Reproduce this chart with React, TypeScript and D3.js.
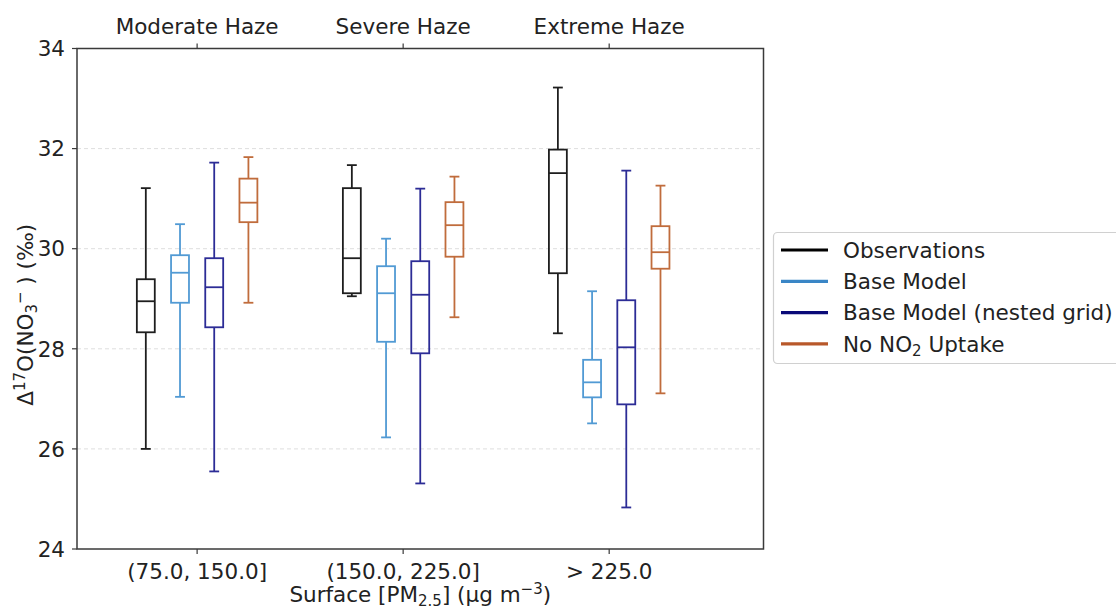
import React from "react";
import * as d3 from "d3";

// Haze categories (bottom: PM2.5 bins, top: haze level)
const pmBins = ["(75.0, 150.0]", "(150.0, 225.0]", "> 225.0"];
const hazeLevels = ["Moderate Haze", "Severe Haze", "Extreme Haze"];
const yTicks = [24, 26, 28, 30, 32, 34];

const seriesNames = ["Observations", "Base Model", "Base Model (nested grid)", "No NO2 Uptake"];

// Box statistics per series: [whisker low, Q1, median, Q3, whisker high] for each bin
const observations = [
  [26.0, 28.33, 28.95, 29.39, 31.21],
  [29.05, 29.11, 29.81, 31.21, 31.67],
  [28.31, 29.51, 31.51, 31.98, 33.22],
];
const baseModel = [
  [27.04, 28.92, 29.52, 29.87, 30.49],
  [26.23, 28.14, 29.11, 29.65, 30.2],
  [26.51, 27.03, 27.33, 27.78, 29.15],
];
const baseModelNested = [
  [25.55, 28.43, 29.23, 29.81, 31.72],
  [25.31, 27.91, 29.08, 29.75, 31.2],
  [24.83, 26.89, 28.03, 28.97, 31.56],
];
const noNO2Uptake = [
  [28.92, 30.53, 30.92, 31.4, 31.83],
  [28.63, 29.84, 30.47, 30.93, 31.44],
  [27.11, 29.6, 29.93, 30.45, 31.26],
];

const boxColors = ["#1e1e1e", "#519ad4", "#2c2c96", "#c06c3c"];
const legendColors = ["#000000", "#3a86c6", "#0a0a78", "#b8582a"];

const W = 1116;
const H = 611;
const frame = { left: 77, right: 763.5, top: 48.5, bottom: 549 };

export default function App() {
  const series = [observations, baseModel, baseModelNested, noNO2Uptake];

  const x = d3.scaleLinear().domain([-0.583, 2.749]).range([frame.left, frame.right]);
  const y = d3.scaleLinear().domain([24, 34]).range([frame.bottom, frame.top]);

  const offsets = [-0.249, -0.083, 0.083, 0.249];
  const boxW = x(0.087) - x(0);
  const capW = boxW * 0.55;

  const font = "DejaVu Sans, sans-serif";
  const textColor = "#222";
  const fs = 21.5;
  const fsSmall = 15;

  return (
    <svg width={W} height={H} style={{ position: "absolute", left: 0, top: 0, background: "#fff" }} fontFamily={font}>
      {/* horizontal grid */}
      {yTicks.filter((t) => t > 24 && t < 34).map((t) => (
        <line key={"g" + t} x1={frame.left} x2={frame.right} y1={y(t)} y2={y(t)}
          stroke="#dedede" strokeWidth={1} strokeDasharray="4,3" />
      ))}

      {/* boxes */}
      {series.map((s, si) =>
        s.map((st, gi) => {
          const cx = x(gi + offsets[si]);
          const [lo, q1, med, q3, hi] = st;
          const c = boxColors[si];
          return (
            <g key={si + "-" + gi} stroke={c} strokeWidth={1.8} fill="none">
              <line x1={cx} x2={cx} y1={y(lo)} y2={y(q1)} />
              <line x1={cx} x2={cx} y1={y(q3)} y2={y(hi)} />
              <line x1={cx - capW / 2} x2={cx + capW / 2} y1={y(lo)} y2={y(lo)} />
              <line x1={cx - capW / 2} x2={cx + capW / 2} y1={y(hi)} y2={y(hi)} />
              <rect x={cx - boxW / 2} y={y(q3)} width={boxW} height={y(q1) - y(q3)} />
              <line x1={cx - boxW / 2} x2={cx + boxW / 2} y1={y(med)} y2={y(med)} />
            </g>
          );
        })
      )}

      {/* frame */}
      <rect x={frame.left} y={frame.top} width={frame.right - frame.left} height={frame.bottom - frame.top}
        fill="none" stroke="#3a3a3a" strokeWidth={1.5} />

      {/* y ticks */}
      {yTicks.map((t) => (
        <g key={"y" + t}>
          <line x1={frame.left - 5} x2={frame.left} y1={y(t)} y2={y(t)} stroke="#3a3a3a" strokeWidth={1.2} />
          <text x={frame.left - 12} y={y(t)} dy="0.36em" textAnchor="end" fontSize={fs} fill={textColor}>{t}</text>
        </g>
      ))}

      {/* bottom ticks */}
      {pmBins.map((b, i) => (
        <g key={"b" + i}>
          <line x1={x(i)} x2={x(i)} y1={frame.bottom} y2={frame.bottom + 5} stroke="#3a3a3a" strokeWidth={1.2} />
          <text x={x(i)} y={frame.bottom + 30} textAnchor="middle" fontSize={fs} fill={textColor}>{b}</text>
        </g>
      ))}

      {/* top ticks */}
      {hazeLevels.map((h, i) => (
        <g key={"t" + i}>
          <line x1={x(i)} x2={x(i)} y1={frame.top - 5} y2={frame.top} stroke="#3a3a3a" strokeWidth={1.2} />
          <text x={x(i)} y={frame.top - 15} textAnchor="middle" fontSize={fs} fill={textColor}>{h}</text>
        </g>
      ))}

      {/* axis labels */}
      <text transform={`translate(33,${(frame.top + frame.bottom) / 2 + 16}) rotate(-90)`} textAnchor="middle"
        fontSize={fs} fill={textColor}>
        Δ<tspan fontSize={fsSmall} baselineShift="55%">17</tspan>O(NO<tspan fontSize={fsSmall} baselineShift="-25%">3</tspan>
        <tspan fontSize={fsSmall} baselineShift="55%">−</tspan>  ) (‰)
      </text>
      <text x={(frame.left + frame.right) / 2} y={602} textAnchor="middle" fontSize={fs} fill={textColor}>
        Surface [PM<tspan fontSize={fsSmall} baselineShift="-25%">2.5</tspan>] (μg m<tspan fontSize={fsSmall} baselineShift="55%">−3</tspan>)
      </text>

      {/* legend */}
      <g>
        <rect x={773.5} y={232.5} width={360} height={131} rx={4} fill="#fff" stroke="#d0d0d0" strokeWidth={1.2} />
        {seriesNames.map((n, i) => {
          const ly = 250 + i * 31.3;
          return (
            <g key={"l" + i}>
              <line x1={781} x2={828} y1={ly} y2={ly} stroke={legendColors[i]} strokeWidth={3.2} />
              <text x={843} y={ly} dy="0.36em" fontSize={fs} fill={textColor}>
                {i === 3 ? (
                  <>No NO<tspan fontSize={fsSmall} baselineShift="-25%">2</tspan> Uptake</>
                ) : n}
              </text>
            </g>
          );
        })}
      </g>
    </svg>
  );
}
